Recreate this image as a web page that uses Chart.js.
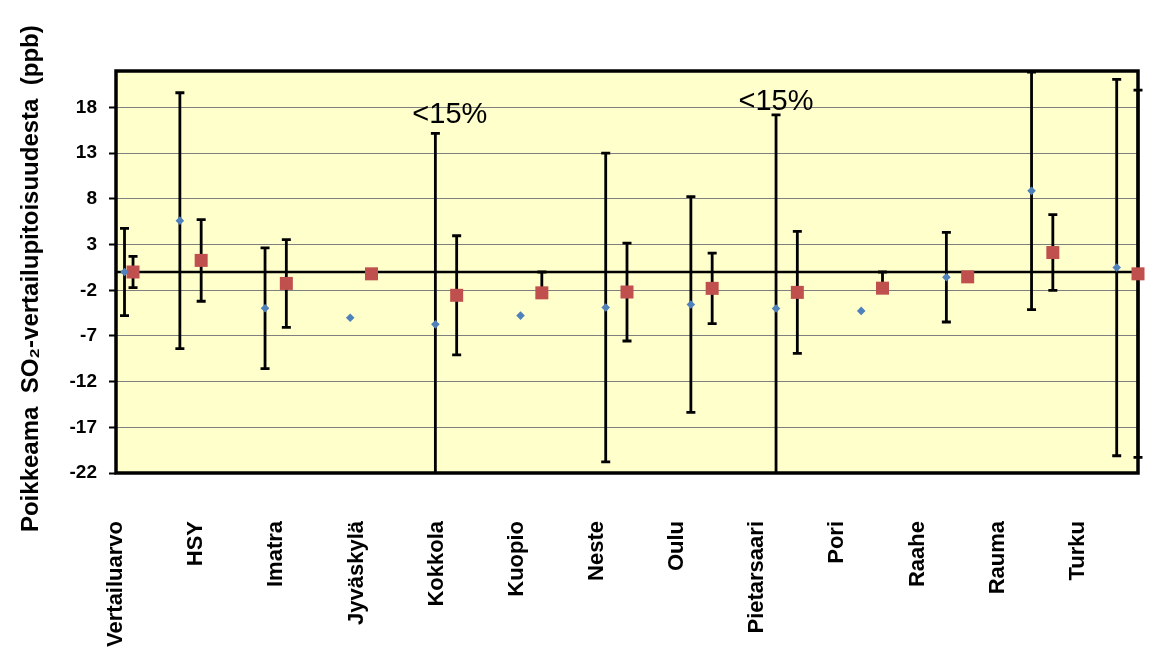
<!DOCTYPE html>
<html>
<head>
<meta charset="utf-8">
<script src="https://cdn.jsdelivr.net/npm/chart.js@4.4.0/dist/chart.umd.min.js"></script>
<style>
  html, body { margin: 0; padding: 0; background: #fff; }
  canvas { display: block; }
</style>
</head>
<body>
<canvas id="chart" width="1149" height="657"></canvas>
<script>
// categories and x positions of the two series (scatter x values)
var categories = ['Vertailuarvo', 'HSY', 'Imatra', 'Jyväskylä', 'Kokkola', 'Kuopio', 'Neste',
                  'Oulu', 'Pietarsaari', 'Pori', 'Raahe', 'Rauma', 'Turku'];
var xBlue = [0.1, 0.75, 1.75, 2.75, 3.75, 4.75, 5.75, 6.75, 7.75, 8.75, 9.75, 10.75, 11.75];
var xRed  = [0.2, 1, 2, 3, 4, 5, 6, 7, 8, 9, 10, 11, 12];

// blue diamonds + error bars
var blueValues = [0, 5.62, -3.97, -5.0, -5.73, -4.77, -3.88, -3.56, -4.0, -4.26, -0.57, 8.88, 0.49];
var bluePlus   = [4.77, 14, 6.6, null, 20.9, null, 16.9, 11.8, 21.2, null, 4.9, 13, 20.6];
var blueMinus  = [4.77, 14, 6.6, null, 20.9, null, 16.9, 11.8, 21.2, null, 4.9, 13, 20.6];

// red squares + error bars
var redValues = [0, 1.27, -1.25, -0.2, -2.55, -2.28, -2.19, -1.79, -2.23, -1.77, -0.53, 2.13, -0.2];
var redPlus   = [1.72, 4.47, 4.8, null, 6.52, 2.28, 5.36, 3.86, 6.67, 1.77, null, 4.15, 20.1];
var redMinus  = [1.72, 4.47, 4.8, null, 6.52, 0, 5.36, 3.86, 6.67, 0, null, 4.15, 20.1];

var yTicks = [-22, -17, -12, -7, -2, 3, 8, 13, 18];

// "<15%" notes
var noteText = ['<15%', '<15%'];
var noteX = [3.92, 7.75];
var noteY = [16.3, 17.7];

var FONT = '"Liberation Sans", Arial, sans-serif';
var labelStep = 12 / 12.75;

function pts(xs, ys) {
    return xs.map(function (x, i) { return {x: x, y: ys[i]}; });
}

var plotDecor = {
    id: 'plotDecor',
    beforeDraw: function (chart) {
        var ctx = chart.ctx, a = chart.chartArea;
        ctx.save();
        ctx.fillStyle = '#FFFFCC';
        ctx.fillRect(a.left, a.top, a.width, a.height);
        ctx.restore();
    },
    beforeDatasetsDraw: function (chart) {
        var ctx = chart.ctx, a = chart.chartArea;
        var xs = chart.scales.x, ys = chart.scales.y;
        ctx.save();
        ctx.strokeStyle = '#000';
        // zero line
        var y0 = ys.getPixelForValue(0);
        ctx.lineWidth = 2.5;
        ctx.beginPath();
        ctx.moveTo(a.left, y0);
        ctx.lineTo(a.right, y0);
        ctx.stroke();
        // frame
        ctx.lineWidth = 3.5;
        ctx.strokeRect(a.left, a.top, a.width, a.height);
        // error bars
        ctx.beginPath();
        ctx.rect(0, a.top, chart.width, a.height);
        ctx.clip();
        ctx.lineWidth = 2.8;
        function bars(xv, vals, plus, minus) {
            for (var i = 0; i < xv.length; i++) {
                if (plus[i] == null) continue;
                var px = xs.getPixelForValue(xv[i]);
                var top = ys.getPixelForValue(vals[i] + plus[i]);
                var bot = ys.getPixelForValue(vals[i] - minus[i]);
                ctx.beginPath();
                ctx.moveTo(px, top);
                ctx.lineTo(px, bot);
                ctx.moveTo(px - 4.5, top);
                ctx.lineTo(px + 4.5, top);
                if (minus[i] > 0) {
                    ctx.moveTo(px - 4.5, bot);
                    ctx.lineTo(px + 4.5, bot);
                }
                ctx.stroke();
            }
        }
        bars(xBlue, blueValues, bluePlus, blueMinus);
        bars(xRed, redValues, redPlus, redMinus);
        ctx.restore();
    },
    afterDatasetsDraw: function (chart) {
        var ctx = chart.ctx;
        ctx.save();
        ctx.fillStyle = '#000';
        ctx.font = '29px ' + FONT;
        ctx.textAlign = 'center';
        ctx.textBaseline = 'alphabetic';
        for (var i = 0; i < noteText.length; i++) {
            ctx.fillText(noteText[i], chart.scales.x.getPixelForValue(noteX[i]),
                         chart.scales.y.getPixelForValue(noteY[i]));
        }
        ctx.restore();
    }
};

new Chart(document.getElementById('chart'), {
    type: 'scatter',
    data: {
        datasets: [{
            label: 'Sarja 1',
            data: pts(xBlue, blueValues),
            pointStyle: 'rectRot',
            pointRadius: 4.3,
            pointBorderWidth: 0,
            backgroundColor: '#4F81BD',
            borderColor: '#4F81BD',
            clip: false
        }, {
            label: 'Sarja 2',
            data: pts(xRed, redValues),
            pointStyle: 'rect',
            pointRadius: 9.2,
            pointBorderWidth: 0,
            backgroundColor: '#C0504D',
            borderColor: '#C0504D',
            clip: false
        }]
    },
    options: {
        responsive: false,
        animation: false,
        layout: { padding: { top: 71, right: 11, left: 0, bottom: 0 } },
        plugins: { legend: { display: false }, tooltip: { enabled: false } },
        scales: {
            x: {
                type: 'linear',
                min: 0,
                max: 12,
                afterBuildTicks: function (s) {
                    s.ticks = categories.map(function (c, i) { return {value: i * labelStep}; });
                },
                afterFit: function (s) { s.height = 184; },
                grid: { display: false },
                border: { display: false },
                ticks: {
                    autoSkip: false,
                    minRotation: 90,
                    maxRotation: 90,
                    padding: 40,
                    color: '#000',
                    font: { family: FONT, size: 22, weight: 'bold' },
                    callback: function (v, i) { return categories[i]; }
                }
            },
            y: {
                min: -22,
                max: 22,
                afterBuildTicks: function (s) {
                    s.ticks = yTicks.map(function (v) { return {value: v}; });
                },
                afterFit: function (s) { s.width = 116; },
                grid: { color: '#7F7F7F', lineWidth: 1, tickLength: 7, tickColor: '#000', tickWidth: 2 },
                border: { display: false },
                ticks: {
                    color: '#000',
                    padding: 12,
                    font: { family: FONT, size: 19, weight: 'bold' }
                },
                title: {
                    display: true,
                    text: 'Poikkeama  SO₂-vertailupitoisuudesta  (ppb)  ',
                    color: '#000',
                    font: { family: FONT, size: 24, weight: 'bold' },
                    padding: { top: 17, bottom: 0 }
                }
            }
        }
    },
    plugins: [plotDecor]
});
</script>
</body>
</html>
